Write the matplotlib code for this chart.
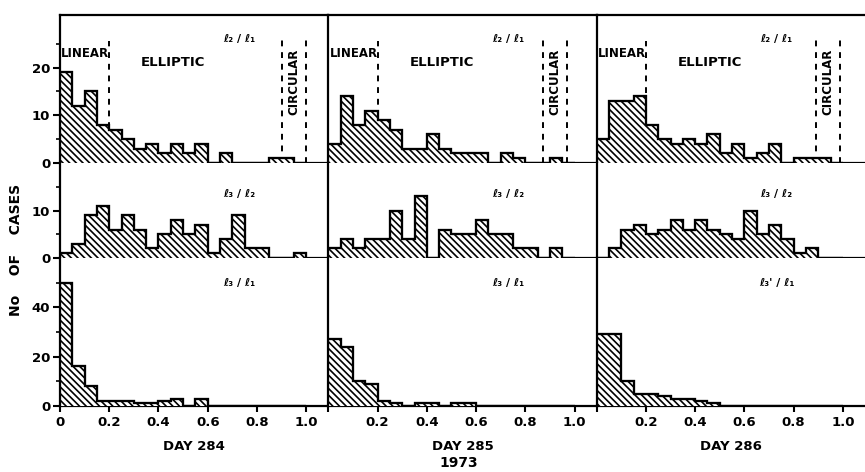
import matplotlib.pyplot as plt
import numpy as np

plt.rcParams['font.family'] = 'DejaVu Sans'
plt.rcParams['font.weight'] = 'bold'
plt.rcParams['hatch.linewidth'] = 1.2

days = ['DAY 284', 'DAY 285', 'DAY 286']
row_labels = ['ℓ₂ / ℓ₁', 'ℓ₃ / ℓ₂', 'ℓ₃ / ℓ₁']
row_labels_right = ['ℓ₂ / ℓ₁', 'ℓ₃ / ℓ₂', "ℓ₃' / ℓ₁"]

# counts per 0.05 bin of the ratio, 0 .. 1.0
l2l1 = [
    [19, 12, 15, 8, 7, 5, 3, 4, 2, 4, 2, 4, 0, 2, 0, 0, 0, 1, 1, 0],
    [4, 14, 8, 11, 9, 7, 3, 3, 6, 3, 2, 2, 2, 0, 2, 1, 0, 0, 1, 0],
    [5, 13, 13, 14, 8, 5, 4, 5, 4, 6, 2, 4, 1, 2, 4, 0, 1, 1, 1, 0],
]
l3l2 = [
    [1, 3, 9, 11, 6, 9, 6, 2, 5, 8, 5, 7, 1, 4, 9, 2, 2, 0, 0, 1],
    [2, 4, 2, 4, 4, 10, 4, 13, 0, 6, 5, 5, 8, 5, 5, 2, 2, 0, 2, 0],
    [0, 2, 6, 7, 5, 6, 8, 6, 8, 6, 5, 4, 10, 5, 7, 4, 1, 2, 0, 0],
]
l3l1 = [
    [50, 16, 8, 2, 2, 2, 1, 1, 2, 3, 0, 3, 0, 0, 0, 0, 0, 0, 0, 0],
    [27, 24, 10, 9, 2, 1, 0, 1, 1, 0, 1, 1, 0, 0, 0, 0, 0, 0, 0, 0],
    [29, 29, 10, 5, 5, 4, 3, 3, 2, 1, 0, 0, 0, 0, 0, 0, 0, 0, 0, 0],
]
rows = [l2l1, l3l2, l3l1]

linear_limit = 0.2
circular_lines = [[0.9, 1.0], [0.87, 0.97], [0.89, 0.99]]

ylims = [31, 20, 60]
yticks = [[0, 10, 20], [0, 10], [0, 20, 40]]
yminor = [[5, 15, 25], [5, 15], [10, 30, 50]]
label_y = [26, 13.5, 50]

edges = np.linspace(0, 1, 21)

fig = plt.figure(figsize=(8.65, 4.72), dpi=100)
gs = fig.add_gridspec(3, 3, left=0.0694, right=1.0, top=0.968, bottom=0.14,
                      hspace=0, wspace=0, height_ratios=[148, 95, 148])

for r in range(3):
    for c in range(3):
        ax = fig.add_subplot(gs[r, c])
        ax.stairs(rows[r][c], edges, fill=True, facecolor='white',
                  edgecolor='black', hatch='\\\\\\\\\\', linewidth=1.5, zorder=3)
        ax.stairs(rows[r][c], edges, color='black', linewidth=1.6, zorder=4)
        ax.set_xlim(0, 1.09)
        ax.set_ylim(0, ylims[r])

        for s in ['left', 'bottom', 'top']:
            ax.spines[s].set_linewidth(1.6)
        ax.spines['right'].set_visible(False)
        if r > 0:
            ax.spines['top'].set_visible(False)

        if c == 0:
            ax.set_yticks(yticks[r])
            ax.set_yticks(yminor[r], minor=True)
            ax.tick_params(axis='y', which='major', direction='out', length=5,
                           width=1.5, labelsize=9.5, pad=2)
            ax.tick_params(axis='y', which='minor', direction='out', length=3, width=1.2)
        else:
            ax.set_yticks([])

        if r == 2:
            ax.set_xticks([0, 0.2, 0.4, 0.6, 0.8, 1.0])
            labels = ['0' if c == 0 else '', '0.2', '0.4', '0.6', '0.8', '1.0']
            ax.set_xticklabels(labels)
            ax.tick_params(axis='x', direction='out', length=4, width=1.5,
                           labelsize=9.5, pad=3)
            ax.set_xlabel(days[c], fontsize=9.5, fontweight='bold', labelpad=8)
        else:
            ax.set_xticks([])

        txt = row_labels_right[r] if c == 2 else row_labels[r]
        ax.text(0.73, label_y[r], txt, fontsize=8, fontweight='bold',
                ha='center', va='center')

        if r == 0:
            ax.vlines(linear_limit, 0, 25.5, colors='black', linestyles=(0, (3, 3)),
                      linewidth=1.4, zorder=2)
            ax.vlines(circular_lines[c], 0, 26, colors='black',
                      linestyles=(0, (3, 3)), linewidth=1.4, zorder=2)
            ax.text(0.005, 23, 'LINEAR', fontsize=8.5, fontweight='bold',
                    ha='left', va='center')
            ax.text(0.46, 21, 'ELLIPTIC', fontsize=9.5, fontweight='bold',
                    ha='center', va='center')
            ax.text(np.mean(circular_lines[c]), 17, 'CIRCULAR', fontsize=8.5,
                    fontweight='bold', rotation=90, ha='center', va='center')

fig.text(0.018, 0.47, 'No    OF    CASES', rotation=90, fontsize=10,
         fontweight='bold', ha='center', va='center')
fig.text(0.53, 0.02, '1973', fontsize=10, fontweight='bold',
         ha='center', va='center')

fig.savefig('out.png', dpi=100)
